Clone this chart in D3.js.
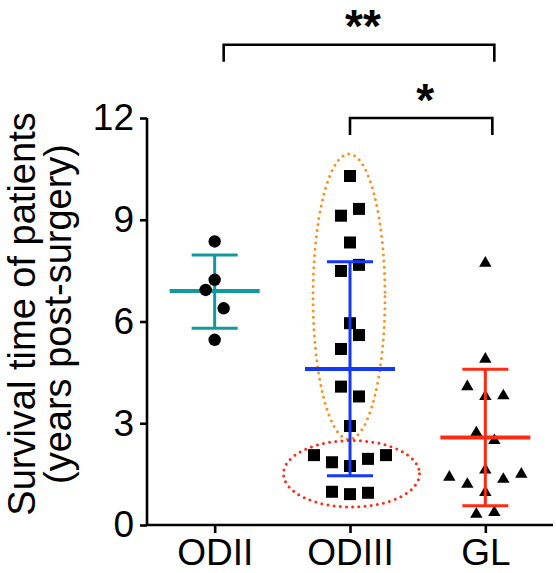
<!DOCTYPE html>
<html>
<head>
<meta charset="utf-8">
<script src="https://cdn.jsdelivr.net/npm/d3@7"></script>
<style>
  html, body { margin: 0; padding: 0; background: #fff; }
  svg { display: block; }
  text { font-family: "Liberation Sans", Arial, Helvetica, sans-serif; }
</style>
</head>
<body>
<div id="chart"></div>
<script>
// ---- data ----
const categories = ["ODII", "ODIII", "GL"];
const yTicks = [0, 3, 6, 9, 12];

const odiiValues  = [8.36, 7.23, 6.93, 6.39, 5.46];
const odiiSlots   = [0, 0, -1, 1, 0];

const odiiiValues = [10.29, 9.32, 9.12, 8.33, 7.67, 7.49, 5.95, 5.60, 5.19, 4.08,
                     3.79, 2.92, 2.06, 1.85, 1.74, 1.95, 2.06, 0.98, 0.91, 0.95];
const odiiiSlots  = [0, 1, -1, 0, 1, -1, 0, 1, -1, -1,
                     1, 0, -4, -2, 0, 2, 4, -2, 0, 2];

const glValues    = [7.72, 4.89, 4.08, 3.79, 3.81, 2.72, 2.49, 1.41, 1.20, 1.62,
                     1.35, 1.50, 0.96, 0.32, 0.37];
const glSlots     = [0, 0, -2, 0, 2, -1, 1, -4, -2, 0, 2, 4, 0, -1, 1];

const groupMeans  = [6.90, 4.60, 2.58];
const groupUpper  = [7.96, 7.76, 4.59];
const groupLower  = [5.80, 1.45, 0.57];

const orangeRange = [2.53, 10.94];   // dotted highlight (ODIII upper cluster)
const redRange    = [0.53, 2.49];    // dotted highlight (ODIII lower cluster)

const comparisons = [
  { from: "ODII",  to: "GL", label: "**", level: 14.16 },
  { from: "ODIII", to: "GL", label: "*",  level: 12.0 }
];

// ---- layout ----
const W = 556, H = 573;
const svg = d3.select("#chart").append("svg").attr("width", W).attr("height", H);

const x = d3.scalePoint().domain(categories).range([147, 553]).padding(0.5);
const y = d3.scaleLinear().domain([0, 12]).range([525, 118]);

const colors = { ODII: "#129a9a", ODIII: "#1437ff", GL: "#ff2a12" };
const slotStep = 9;

const groups = [
  { cat: "ODII",  values: odiiValues,  slots: odiiSlots,  shape: "circle" },
  { cat: "ODIII", values: odiiiValues, slots: odiiiSlots, shape: "square" },
  { cat: "GL",    values: glValues,    slots: glSlots,    shape: "triangle" }
];

// dotted ellipses
const ex = x("ODIII");
function dottedEllipse(cx, range, rx, color) {
  const cy = (y(range[0]) + y(range[1])) / 2;
  const ry = Math.abs(y(range[0]) - y(range[1])) / 2;
  svg.append("ellipse")
    .attr("cx", cx).attr("cy", cy).attr("rx", rx).attr("ry", ry)
    .attr("fill", "none").attr("stroke", color)
    .attr("stroke-width", 3).attr("stroke-linecap", "round")
    .attr("stroke-dasharray", "0 6.2");
}
dottedEllipse(ex - 1, orangeRange, 36, "#f7931e");
dottedEllipse(ex + 1.5, redRange, 68, "#ff2a1a");

// axes
const yAxis = d3.axisLeft(y).tickValues(yTicks).tickSize(7).tickSizeOuter(0).tickPadding(6);
const xAxis = d3.axisBottom(x).tickSize(8).tickSizeOuter(0).tickPadding(0);

const gy = svg.append("g").attr("transform", "translate(147,0)").call(yAxis);
const gx = svg.append("g").attr("transform", "translate(0,525)").call(xAxis);

[gy, gx].forEach(g => {
  g.select(".domain").attr("stroke", "#000").attr("stroke-width", 2.6);
  g.selectAll(".tick line").attr("stroke", "#000").attr("stroke-width", 2.6);
});
gy.selectAll(".tick text").attr("font-size", 37).attr("fill", "#000")
  .attr("font-family", "'Liberation Sans', Arial, sans-serif");
gx.selectAll(".tick text").attr("font-size", 37).attr("fill", "#000")
  .attr("font-family", "'Liberation Sans', Arial, sans-serif")
  .attr("y", 40).attr("dy", null);
gy.select(".domain").attr("d", "M0,525V118");
gx.select(".domain").attr("d", "M147,0H553");

// y title
const title = svg.append("g").attr("transform", "translate(0,314) rotate(-90)");
title.append("text").attr("x", 0).attr("y", 35).attr("text-anchor", "middle")
  .attr("font-size", 38).text("Survival time of patients");
title.append("text").attr("x", 0).attr("y", 71).attr("text-anchor", "middle")
  .attr("font-size", 38).text("(years post-surgery)");

// marks
const sz = 12;
function drawPoints(gr) {
  const cx = x(gr.cat);
  const g = svg.append("g").attr("fill", "#000");
  gr.values.forEach((v, i) => {
    const px = cx + gr.slots[i] * slotStep, py = y(v);
    if (gr.shape === "circle") {
      g.append("circle").attr("cx", px).attr("cy", py).attr("r", 6.2);
    } else if (gr.shape === "square") {
      g.append("rect").attr("x", px - sz / 2).attr("y", py - sz / 2)
        .attr("width", sz).attr("height", sz);
    } else {
      const h = 10.6, w = 12.4;
      g.append("path").attr("d",
        `M${px},${py - 2 * h / 3}L${px + w / 2},${py + h / 3}L${px - w / 2},${py + h / 3}Z`);
    }
  });
}
function drawBars(gr, i) {
  const cx = x(gr.cat), c = colors[gr.cat];
  const g = svg.append("g").attr("stroke", c).attr("fill", "none");
  g.append("line").attr("x1", cx).attr("x2", cx)
    .attr("y1", y(groupUpper[i])).attr("y2", y(groupLower[i])).attr("stroke-width", 3);
  [groupUpper[i], groupLower[i]].forEach(v => {
    g.append("line").attr("x1", cx - 23).attr("x2", cx + 23)
      .attr("y1", y(v)).attr("y2", y(v)).attr("stroke-width", 3);
  });
  g.append("line").attr("x1", cx - 45).attr("x2", cx + 45)
    .attr("y1", y(groupMeans[i])).attr("y2", y(groupMeans[i])).attr("stroke-width", 4.2);
}
groups.forEach((gr, i) => {
  if (gr.shape === "circle") { drawBars(gr, i); drawPoints(gr); }
  else { drawPoints(gr); drawBars(gr, i); }
});

// significance brackets
const bracketOffsets = [[9, 9], [0, 7]];
const labelDy = [-3, -2];
comparisons.forEach((c, i) => {
  const x1 = x(c.from) + bracketOffsets[i][0], x2 = x(c.to) + bracketOffsets[i][1];
  const yb = y(c.level);
  svg.append("path")
    .attr("d", `M${x1},${yb + 17}V${yb}H${x2}V${yb + 17}`)
    .attr("fill", "none").attr("stroke", "#000").attr("stroke-width", 2.6);
  svg.append("text").attr("x", (x1 + x2) / 2 + 4).attr("y", yb + labelDy[i])
    .attr("text-anchor", "middle").attr("font-size", 46).attr("font-weight", "bold")
    .text(c.label);
});
</script>
</body>
</html>
